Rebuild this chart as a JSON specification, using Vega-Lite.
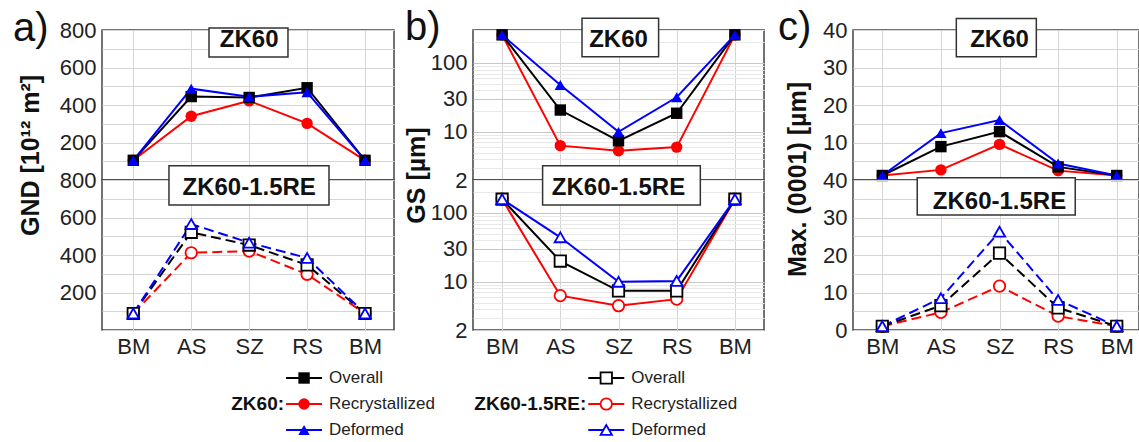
{
"$schema": "https://vega.github.io/schema/vega-lite/v6.json",
"padding": {"left": 12, "top": 6, "right": 0, "bottom": 0},
"background": "white",
"data": {"values": [
{"panel":"GND","alloy":"ZK60","series":"Recrystallized","zone":"BM","pos":1,"value":105},
{"panel":"GND","alloy":"ZK60","series":"Recrystallized","zone":"AS","pos":2,"value":340},
{"panel":"GND","alloy":"ZK60","series":"Recrystallized","zone":"SZ","pos":3,"value":422},
{"panel":"GND","alloy":"ZK60","series":"Recrystallized","zone":"RS","pos":4,"value":302},
{"panel":"GND","alloy":"ZK60","series":"Recrystallized","zone":"BM","pos":5,"value":105},
{"panel":"GND","alloy":"ZK60","series":"Overall","zone":"BM","pos":1,"value":105},
{"panel":"GND","alloy":"ZK60","series":"Overall","zone":"AS","pos":2,"value":445},
{"panel":"GND","alloy":"ZK60","series":"Overall","zone":"SZ","pos":3,"value":440},
{"panel":"GND","alloy":"ZK60","series":"Overall","zone":"RS","pos":4,"value":492},
{"panel":"GND","alloy":"ZK60","series":"Overall","zone":"BM","pos":5,"value":105},
{"panel":"GND","alloy":"ZK60","series":"Deformed","zone":"BM","pos":1,"value":105},
{"panel":"GND","alloy":"ZK60","series":"Deformed","zone":"AS","pos":2,"value":487},
{"panel":"GND","alloy":"ZK60","series":"Deformed","zone":"SZ","pos":3,"value":444},
{"panel":"GND","alloy":"ZK60","series":"Deformed","zone":"RS","pos":4,"value":468},
{"panel":"GND","alloy":"ZK60","series":"Deformed","zone":"BM","pos":5,"value":105},
{"panel":"GND","alloy":"ZK60-1.5RE","series":"Recrystallized","zone":"BM","pos":1,"value":88},
{"panel":"GND","alloy":"ZK60-1.5RE","series":"Recrystallized","zone":"AS","pos":2,"value":412},
{"panel":"GND","alloy":"ZK60-1.5RE","series":"Recrystallized","zone":"SZ","pos":3,"value":421},
{"panel":"GND","alloy":"ZK60-1.5RE","series":"Recrystallized","zone":"RS","pos":4,"value":297},
{"panel":"GND","alloy":"ZK60-1.5RE","series":"Recrystallized","zone":"BM","pos":5,"value":88},
{"panel":"GND","alloy":"ZK60-1.5RE","series":"Overall","zone":"BM","pos":1,"value":88},
{"panel":"GND","alloy":"ZK60-1.5RE","series":"Overall","zone":"AS","pos":2,"value":521},
{"panel":"GND","alloy":"ZK60-1.5RE","series":"Overall","zone":"SZ","pos":3,"value":453},
{"panel":"GND","alloy":"ZK60-1.5RE","series":"Overall","zone":"RS","pos":4,"value":347},
{"panel":"GND","alloy":"ZK60-1.5RE","series":"Overall","zone":"BM","pos":5,"value":88},
{"panel":"GND","alloy":"ZK60-1.5RE","series":"Deformed","zone":"BM","pos":1,"value":88},
{"panel":"GND","alloy":"ZK60-1.5RE","series":"Deformed","zone":"AS","pos":2,"value":565},
{"panel":"GND","alloy":"ZK60-1.5RE","series":"Deformed","zone":"SZ","pos":3,"value":466},
{"panel":"GND","alloy":"ZK60-1.5RE","series":"Deformed","zone":"RS","pos":4,"value":384},
{"panel":"GND","alloy":"ZK60-1.5RE","series":"Deformed","zone":"BM","pos":5,"value":88},
{"panel":"GS","alloy":"ZK60","series":"Recrystallized","zone":"BM","pos":1,"value":255},
{"panel":"GS","alloy":"ZK60","series":"Recrystallized","zone":"AS","pos":2,"value":6.3},
{"panel":"GS","alloy":"ZK60","series":"Recrystallized","zone":"SZ","pos":3,"value":5.3},
{"panel":"GS","alloy":"ZK60","series":"Recrystallized","zone":"RS","pos":4,"value":6.0},
{"panel":"GS","alloy":"ZK60","series":"Recrystallized","zone":"BM","pos":5,"value":255},
{"panel":"GS","alloy":"ZK60","series":"Overall","zone":"BM","pos":1,"value":255},
{"panel":"GS","alloy":"ZK60","series":"Overall","zone":"AS","pos":2,"value":20.7},
{"panel":"GS","alloy":"ZK60","series":"Overall","zone":"SZ","pos":3,"value":7.4},
{"panel":"GS","alloy":"ZK60","series":"Overall","zone":"RS","pos":4,"value":18.6},
{"panel":"GS","alloy":"ZK60","series":"Overall","zone":"BM","pos":5,"value":255},
{"panel":"GS","alloy":"ZK60","series":"Deformed","zone":"BM","pos":1,"value":255},
{"panel":"GS","alloy":"ZK60","series":"Deformed","zone":"AS","pos":2,"value":47.8},
{"panel":"GS","alloy":"ZK60","series":"Deformed","zone":"SZ","pos":3,"value":10.0},
{"panel":"GS","alloy":"ZK60","series":"Deformed","zone":"RS","pos":4,"value":31.7},
{"panel":"GS","alloy":"ZK60","series":"Deformed","zone":"BM","pos":5,"value":255},
{"panel":"GS","alloy":"ZK60-1.5RE","series":"Recrystallized","zone":"BM","pos":1,"value":158},
{"panel":"GS","alloy":"ZK60-1.5RE","series":"Recrystallized","zone":"AS","pos":2,"value":6.3},
{"panel":"GS","alloy":"ZK60-1.5RE","series":"Recrystallized","zone":"SZ","pos":3,"value":4.5},
{"panel":"GS","alloy":"ZK60-1.5RE","series":"Recrystallized","zone":"RS","pos":4,"value":5.6},
{"panel":"GS","alloy":"ZK60-1.5RE","series":"Recrystallized","zone":"BM","pos":5,"value":158},
{"panel":"GS","alloy":"ZK60-1.5RE","series":"Overall","zone":"BM","pos":1,"value":158},
{"panel":"GS","alloy":"ZK60-1.5RE","series":"Overall","zone":"AS","pos":2,"value":20},
{"panel":"GS","alloy":"ZK60-1.5RE","series":"Overall","zone":"SZ","pos":3,"value":7.4},
{"panel":"GS","alloy":"ZK60-1.5RE","series":"Overall","zone":"RS","pos":4,"value":7.4},
{"panel":"GS","alloy":"ZK60-1.5RE","series":"Overall","zone":"BM","pos":5,"value":158},
{"panel":"GS","alloy":"ZK60-1.5RE","series":"Deformed","zone":"BM","pos":1,"value":158},
{"panel":"GS","alloy":"ZK60-1.5RE","series":"Deformed","zone":"AS","pos":2,"value":44.2},
{"panel":"GS","alloy":"ZK60-1.5RE","series":"Deformed","zone":"SZ","pos":3,"value":10.0},
{"panel":"GS","alloy":"ZK60-1.5RE","series":"Deformed","zone":"RS","pos":4,"value":10.3},
{"panel":"GS","alloy":"ZK60-1.5RE","series":"Deformed","zone":"BM","pos":5,"value":158},
{"panel":"Max","alloy":"ZK60","series":"Recrystallized","zone":"BM","pos":1,"value":1.2},
{"panel":"Max","alloy":"ZK60","series":"Recrystallized","zone":"AS","pos":2,"value":2.7},
{"panel":"Max","alloy":"ZK60","series":"Recrystallized","zone":"SZ","pos":3,"value":9.5},
{"panel":"Max","alloy":"ZK60","series":"Recrystallized","zone":"RS","pos":4,"value":2.5},
{"panel":"Max","alloy":"ZK60","series":"Recrystallized","zone":"BM","pos":5,"value":1.2},
{"panel":"Max","alloy":"ZK60","series":"Overall","zone":"BM","pos":1,"value":1.2},
{"panel":"Max","alloy":"ZK60","series":"Overall","zone":"AS","pos":2,"value":8.9},
{"panel":"Max","alloy":"ZK60","series":"Overall","zone":"SZ","pos":3,"value":12.9},
{"panel":"Max","alloy":"ZK60","series":"Overall","zone":"RS","pos":4,"value":3.5},
{"panel":"Max","alloy":"ZK60","series":"Overall","zone":"BM","pos":5,"value":1.2},
{"panel":"Max","alloy":"ZK60","series":"Deformed","zone":"BM","pos":1,"value":1.2},
{"panel":"Max","alloy":"ZK60","series":"Deformed","zone":"AS","pos":2,"value":12.5},
{"panel":"Max","alloy":"ZK60","series":"Deformed","zone":"SZ","pos":3,"value":16},
{"panel":"Max","alloy":"ZK60","series":"Deformed","zone":"RS","pos":4,"value":4.4},
{"panel":"Max","alloy":"ZK60","series":"Deformed","zone":"BM","pos":5,"value":1.2},
{"panel":"Max","alloy":"ZK60-1.5RE","series":"Recrystallized","zone":"BM","pos":1,"value":1},
{"panel":"Max","alloy":"ZK60-1.5RE","series":"Recrystallized","zone":"AS","pos":2,"value":4.7},
{"panel":"Max","alloy":"ZK60-1.5RE","series":"Recrystallized","zone":"SZ","pos":3,"value":11.7},
{"panel":"Max","alloy":"ZK60-1.5RE","series":"Recrystallized","zone":"RS","pos":4,"value":3.7},
{"panel":"Max","alloy":"ZK60-1.5RE","series":"Recrystallized","zone":"BM","pos":5,"value":1},
{"panel":"Max","alloy":"ZK60-1.5RE","series":"Overall","zone":"BM","pos":1,"value":1},
{"panel":"Max","alloy":"ZK60-1.5RE","series":"Overall","zone":"AS","pos":2,"value":6.5},
{"panel":"Max","alloy":"ZK60-1.5RE","series":"Overall","zone":"SZ","pos":3,"value":20.5},
{"panel":"Max","alloy":"ZK60-1.5RE","series":"Overall","zone":"RS","pos":4,"value":5.9},
{"panel":"Max","alloy":"ZK60-1.5RE","series":"Overall","zone":"BM","pos":5,"value":1},
{"panel":"Max","alloy":"ZK60-1.5RE","series":"Deformed","zone":"BM","pos":1,"value":1},
{"panel":"Max","alloy":"ZK60-1.5RE","series":"Deformed","zone":"AS","pos":2,"value":8.5},
{"panel":"Max","alloy":"ZK60-1.5RE","series":"Deformed","zone":"SZ","pos":3,"value":26.2},
{"panel":"Max","alloy":"ZK60-1.5RE","series":"Deformed","zone":"RS","pos":4,"value":8},
{"panel":"Max","alloy":"ZK60-1.5RE","series":"Deformed","zone":"BM","pos":5,"value":1}
]},
"columns": 5,
"spacing": {"row": 0, "column": 0},
"bounds": "flush",
"align": "each",
"concat": [
{
 "width": 292, "height": 150, "view": {"stroke": "#444", "strokeWidth": 1.5},
 "title": {"text": "a)", "dx": -89, "dy": 34},
 "resolve": {"axis": {"y": "independent"}},
 "layer": [
  {"transform": [{"filter": "datum.panel=='GND' && datum.alloy=='ZK60'"}],
   "mark": {"type": "line", "strokeWidth": 2},
   "encoding": {
    "x": {"field": "pos", "type": "quantitative", "scale": {"domain": [0.46, 5.5], "nice": false, "zero": false}, "axis": {"values": [1,1.5,2,2.5,3,3.5,4,4.5,5], "labels": false, "title": null}},
    "y": {"field": "value", "type": "quantitative", "scale": {"domain": [0, 800], "nice": false}, "axis": {"orient": "left", "values": [200,400,600,800], "grid": false, "title": "GND [10¹² m²]", "titleX": -72, "titleY": 125, "titleBaseline": "middle", "titleAlign": "center", "titleAngle": -90}},
    "color": {"field": "series", "type": "nominal", "scale": {"domain": ["Overall","Recrystallized","Deformed"], "range": ["#000000","#ff0000","#0000ff"]}, "legend": null}
   }},
  {"transform": [{"filter": "datum.panel=='GND' && datum.alloy=='ZK60'"}],
   "mark": {"type": "point", "filled": true, "opacity": 1, "size": 130},
   "encoding": {
    "x": {"field": "pos", "type": "quantitative"},
    "y": {"field": "value", "type": "quantitative", "axis": null},
    "color": {"field": "series", "type": "nominal", "legend": null},
    "shape": {"field": "series", "type": "nominal", "scale": {"domain": ["Overall","Recrystallized","Deformed"], "range": ["square","circle","triangle-up"]}, "legend": null}
   }},
  {"data": {"values": [{}]}, "mark": {"type": "rect", "fill": "white", "stroke": "#333", "strokeWidth": 1.5},
   "encoding": {"x": {"datum": 2.307}, "x2": {"datum": 3.67}, "y": {"datum": 810.7, "axis": {"orient": "left", "values": [0,100,200,300,400,500,600,700,800], "labels": false, "grid": true, "title": null}}, "y2": {"datum": 656}}},
  {"data": {"values": [{}]}, "mark": {"type": "text", "fontSize": 24, "fontWeight": "bold", "baseline": "alphabetic", "font": "Liberation Sans", "color": "#111"},
   "encoding": {"x": {"datum": 3}, "y": {"datum": 711, "axis": null}, "text": {"value": "ZK60"}}}
 ]
},
{"width": 79, "height": 150, "view": {"stroke": null}, "data": {"values": []}, "mark": "point"},
{
 "width": 291, "height": 150, "view": {"stroke": "#444", "strokeWidth": 1.5},
 "title": {"text": "b)", "dx": -68, "dy": 34},
 "layer": [
  {"transform": [{"filter": "datum.panel=='GS' && datum.alloy=='ZK60'"}],
   "mark": {"type": "line", "strokeWidth": 2},
   "encoding": {
    "x": {"field": "pos", "type": "quantitative", "scale": {"domain": [0.5, 5.5], "nice": false, "zero": false}, "axis": {"values": [1,1.5,2,2.5,3,3.5,4,4.5,5], "labels": false, "title": null}},
    "y": {"field": "value", "type": "quantitative", "scale": {"type": "log", "domain": [2, 300], "nice": false}, "axis": {"values": [2,3,4,5,6,7,8,9,10,20,30,40,50,60,70,80,90,100,200,300], "format": "d", "labelExpr": "indexof([2,10,30,100], datum.value) >= 0 ? datum.label : ''", "gridColor": {"condition": {"test": "indexof([2,10,30,100], datum.value) >= 0", "value": "#c8c8c8"}, "value": "#e8e8e8"}, "title": "GS [µm]", "titleX": -57, "titleY": 145, "titleBaseline": "middle", "titleAlign": "center", "titleAngle": -90}},
    "color": {"field": "series", "type": "nominal", "scale": {"domain": ["Overall","Recrystallized","Deformed"], "range": ["#000000","#ff0000","#0000ff"]}, "legend": null}
   }},
  {"transform": [{"filter": "datum.panel=='GS' && datum.alloy=='ZK60'"}],
   "mark": {"type": "point", "filled": true, "opacity": 1, "size": 130},
   "encoding": {
    "x": {"field": "pos", "type": "quantitative"},
    "y": {"field": "value", "type": "quantitative"},
    "color": {"field": "series", "type": "nominal", "legend": null},
    "shape": {"field": "series", "type": "nominal", "scale": {"domain": ["Overall","Recrystallized","Deformed"], "range": ["square","circle","triangle-up"]}, "legend": null}
   }},
  {"data": {"values": [{}]}, "mark": {"type": "rect", "fill": "white", "stroke": "#333", "strokeWidth": 1.5},
   "encoding": {"x": {"datum": 2.373}, "x2": {"datum": 3.689}, "y": {"datum": 443.6}, "y2": {"datum": 123}}},
  {"data": {"values": [{}]}, "mark": {"type": "text", "fontSize": 24, "fontWeight": "bold", "baseline": "alphabetic", "font": "Liberation Sans", "color": "#111"},
   "encoding": {"x": {"datum": 3}, "y": {"datum": 171.7}, "text": {"value": "ZK60"}}}
 ]
},
{"width": 89, "height": 150, "view": {"stroke": null}, "data": {"values": []}, "mark": "point"},
{
 "width": 286, "height": 150, "view": {"stroke": "#444", "strokeWidth": 1.5},
 "title": {"text": "c)", "dx": -75, "dy": 34},
 "resolve": {"axis": {"y": "independent"}},
 "layer": [
  {"transform": [{"filter": "datum.panel=='Max' && datum.alloy=='ZK60'"}],
   "mark": {"type": "line", "strokeWidth": 2},
   "encoding": {
    "x": {"field": "pos", "type": "quantitative", "scale": {"domain": [0.5, 5.38], "nice": false, "zero": false}, "axis": {"values": [1,1.5,2,2.5,3,3.5,4,4.5,5], "labels": false, "title": null}},
    "y": {"field": "value", "type": "quantitative", "scale": {"domain": [0, 40], "nice": false}, "axis": {"orient": "left", "values": [10,20,30,40], "grid": false, "title": "Max. (0001) [µm]", "titleX": -56, "titleY": 149, "titleBaseline": "middle", "titleAlign": "center", "titleAngle": -90}},
    "color": {"field": "series", "type": "nominal", "scale": {"domain": ["Overall","Recrystallized","Deformed"], "range": ["#000000","#ff0000","#0000ff"]}, "legend": null}
   }},
  {"transform": [{"filter": "datum.panel=='Max' && datum.alloy=='ZK60'"}],
   "mark": {"type": "point", "filled": true, "opacity": 1, "size": 130},
   "encoding": {
    "x": {"field": "pos", "type": "quantitative"},
    "y": {"field": "value", "type": "quantitative", "axis": null},
    "color": {"field": "series", "type": "nominal", "legend": null},
    "shape": {"field": "series", "type": "nominal", "scale": {"domain": ["Overall","Recrystallized","Deformed"], "range": ["square","circle","triangle-up"]}, "legend": null}
   }},
  {"data": {"values": [{}]}, "mark": {"type": "rect", "fill": "white", "stroke": "#333", "strokeWidth": 1.5},
   "encoding": {"x": {"datum": 2.263}, "x2": {"datum": 3.628}, "y": {"datum": 43.1, "axis": {"orient": "left", "values": [0,5,10,15,20,25,30,35,40], "labels": false, "grid": true, "title": null}}, "y2": {"datum": 32.9}}},
  {"data": {"values": [{}]}, "mark": {"type": "text", "fontSize": 24, "fontWeight": "bold", "baseline": "alphabetic", "font": "Liberation Sans", "color": "#111"},
   "encoding": {"x": {"datum": 3}, "y": {"datum": 35.5, "axis": null}, "text": {"value": "ZK60"}}}
 ]
},
{
 "width": 292, "height": 150, "view": {"stroke": "#444", "strokeWidth": 1.5},
 "resolve": {"axis": {"y": "independent"}},
 "layer": [
  {"transform": [{"filter": "datum.panel=='GND' && datum.alloy=='ZK60-1.5RE'"}],
   "mark": {"type": "line", "strokeWidth": 2, "strokeDash": [10, 5]},
   "encoding": {
    "x": {"field": "pos", "type": "quantitative", "scale": {"domain": [0.46, 5.5], "nice": false, "zero": false}, "axis": {"values": [1,1.5,2,2.5,3,3.5,4,4.5,5], "labelExpr": "datum.value == 1 || datum.value == 5 ? 'BM' : datum.value == 2 ? 'AS' : datum.value == 3 ? 'SZ' : datum.value == 4 ? 'RS' : ''", "title": null}},
    "y": {"field": "value", "type": "quantitative", "scale": {"domain": [0, 800], "nice": false}, "axis": {"orient": "left", "values": [200,400,600,800], "grid": false, "title": null}},
    "color": {"field": "series", "type": "nominal", "scale": {"domain": ["Overall","Recrystallized","Deformed"], "range": ["#000000","#ff0000","#0000ff"]}, "legend": null}
   }},
  {"transform": [{"filter": "datum.panel=='GND' && datum.alloy=='ZK60-1.5RE'"}],
   "mark": {"type": "point", "filled": true, "fill": "white", "strokeWidth": 1.8, "opacity": 1, "size": 130},
   "encoding": {
    "x": {"field": "pos", "type": "quantitative"},
    "y": {"field": "value", "type": "quantitative", "axis": null},
    "stroke": {"field": "series", "type": "nominal", "scale": {"domain": ["Overall","Recrystallized","Deformed"], "range": ["#000000","#ff0000","#0000ff"]}, "legend": null},
    "shape": {"field": "series", "type": "nominal", "scale": {"domain": ["Overall","Recrystallized","Deformed"], "range": ["square","circle","triangle-up"]}, "legend": null}
   }},
  {"data": {"values": [{}]}, "mark": {"type": "rect", "fill": "white", "stroke": "#333", "strokeWidth": 1.5},
   "encoding": {"x": {"datum": 1.616}, "x2": {"datum": 4.378}, "y": {"datum": 876, "axis": {"orient": "left", "values": [0,100,200,300,400,500,600,700,800], "labels": false, "grid": true, "title": null}}, "y2": {"datum": 666.7}}},
  {"data": {"values": [{}]}, "mark": {"type": "text", "fontSize": 24, "fontWeight": "bold", "baseline": "alphabetic", "font": "Liberation Sans", "color": "#111"},
   "encoding": {"x": {"datum": 3}, "y": {"datum": 720, "axis": null}, "text": {"value": "ZK60-1.5RE"}}}
 ]
},
{"width": 79, "height": 150, "view": {"stroke": null}, "data": {"values": []}, "mark": "point"},
{
 "width": 291, "height": 150, "view": {"stroke": "#444", "strokeWidth": 1.5},
 "layer": [
  {"transform": [{"filter": "datum.panel=='GS' && datum.alloy=='ZK60-1.5RE'"}],
   "mark": {"type": "line", "strokeWidth": 2},
   "encoding": {
    "x": {"field": "pos", "type": "quantitative", "scale": {"domain": [0.5, 5.5], "nice": false, "zero": false}, "axis": {"values": [1,1.5,2,2.5,3,3.5,4,4.5,5], "labelExpr": "datum.value == 1 || datum.value == 5 ? 'BM' : datum.value == 2 ? 'AS' : datum.value == 3 ? 'SZ' : datum.value == 4 ? 'RS' : ''", "title": null}},
    "y": {"field": "value", "type": "quantitative", "scale": {"type": "log", "domain": [2, 300], "nice": false}, "axis": {"values": [2,3,4,5,6,7,8,9,10,20,30,40,50,60,70,80,90,100,200,300], "format": "d", "labelExpr": "indexof([2,10,30,100], datum.value) >= 0 ? datum.label : ''", "gridColor": {"condition": {"test": "indexof([2,10,30,100], datum.value) >= 0", "value": "#c8c8c8"}, "value": "#e8e8e8"}, "title": null}},
    "color": {"field": "series", "type": "nominal", "scale": {"domain": ["Overall","Recrystallized","Deformed"], "range": ["#000000","#ff0000","#0000ff"]}, "legend": null}
   }},
  {"transform": [{"filter": "datum.panel=='GS' && datum.alloy=='ZK60-1.5RE'"}],
   "mark": {"type": "point", "filled": true, "fill": "white", "strokeWidth": 1.8, "opacity": 1, "size": 130},
   "encoding": {
    "x": {"field": "pos", "type": "quantitative"},
    "y": {"field": "value", "type": "quantitative"},
    "stroke": {"field": "series", "type": "nominal", "scale": {"domain": ["Overall","Recrystallized","Deformed"], "range": ["#000000","#ff0000","#0000ff"]}, "legend": null},
    "shape": {"field": "series", "type": "nominal", "scale": {"domain": ["Overall","Recrystallized","Deformed"], "range": ["square","circle","triangle-up"]}, "legend": null}
   }},
  {"data": {"values": [{}]}, "mark": {"type": "rect", "fill": "white", "stroke": "#333", "strokeWidth": 1.5},
   "encoding": {"x": {"datum": 1.696}, "x2": {"datum": 4.406}, "y": {"datum": 483.7}, "y2": {"datum": 130.2}}},
  {"data": {"values": [{}]}, "mark": {"type": "text", "fontSize": 24, "fontWeight": "bold", "baseline": "alphabetic", "font": "Liberation Sans", "color": "#111"},
   "encoding": {"x": {"datum": 3}, "y": {"datum": 181.8}, "text": {"value": "ZK60-1.5RE"}}}
 ]
},
{"width": 89, "height": 150, "view": {"stroke": null}, "data": {"values": []}, "mark": "point"},
{
 "width": 286, "height": 150, "view": {"stroke": "#444", "strokeWidth": 1.5},
 "resolve": {"axis": {"y": "independent"}},
 "layer": [
  {"transform": [{"filter": "datum.panel=='Max' && datum.alloy=='ZK60-1.5RE'"}],
   "mark": {"type": "line", "strokeWidth": 2, "strokeDash": [10, 5]},
   "encoding": {
    "x": {"field": "pos", "type": "quantitative", "scale": {"domain": [0.5, 5.38], "nice": false, "zero": false}, "axis": {"values": [1,1.5,2,2.5,3,3.5,4,4.5,5], "labelExpr": "datum.value == 1 || datum.value == 5 ? 'BM' : datum.value == 2 ? 'AS' : datum.value == 3 ? 'SZ' : datum.value == 4 ? 'RS' : ''", "title": null}},
    "y": {"field": "value", "type": "quantitative", "scale": {"domain": [0, 40], "nice": false}, "axis": {"orient": "left", "values": [0,10,20,30,40], "grid": false, "title": null}},
    "color": {"field": "series", "type": "nominal", "scale": {"domain": ["Overall","Recrystallized","Deformed"], "range": ["#000000","#ff0000","#0000ff"]}, "legend": null}
   }},
  {"transform": [{"filter": "datum.panel=='Max' && datum.alloy=='ZK60-1.5RE'"}],
   "mark": {"type": "point", "filled": true, "fill": "white", "strokeWidth": 1.8, "opacity": 1, "size": 130},
   "encoding": {
    "x": {"field": "pos", "type": "quantitative"},
    "y": {"field": "value", "type": "quantitative", "axis": null},
    "stroke": {"field": "series", "type": "nominal", "scale": {"domain": ["Overall","Recrystallized","Deformed"], "range": ["#000000","#ff0000","#0000ff"]}, "legend": null},
    "shape": {"field": "series", "type": "nominal", "scale": {"domain": ["Overall","Recrystallized","Deformed"], "range": ["square","circle","triangle-up"]}, "legend": null}
   }},
  {"data": {"values": [{}]}, "mark": {"type": "rect", "fill": "white", "stroke": "#333", "strokeWidth": 1.5},
   "encoding": {"x": {"datum": 1.596}, "x2": {"datum": 4.292}, "y": {"datum": 40.6, "axis": {"orient": "left", "values": [0,5,10,15,20,25,30,35,40], "labels": false, "grid": true, "title": null}}, "y2": {"datum": 30.67}}},
  {"data": {"values": [{}]}, "mark": {"type": "text", "fontSize": 24, "fontWeight": "bold", "baseline": "alphabetic", "font": "Liberation Sans", "color": "#111"},
   "encoding": {"x": {"datum": 3}, "y": {"datum": 32.4, "axis": null}, "text": {"value": "ZK60-1.5RE"}}}
 ]
},
{
 "width": 292, "height": 104, "view": {"stroke": null},
 "transform": [{"filter": "datum.panel=='GND' && datum.pos==1 && datum.alloy=='ZK60'"}],
 "encoding": {
  "x": {"field": "alloy", "type": "nominal", "scale": {"type": "point", "padding": 0, "align": 0.692}, "axis": null},
  "y": {"field": "series", "type": "nominal", "scale": {"type": "point", "domain": ["Overall","Recrystallized","Deformed"], "padding": 1, "align": 0.923}, "axis": null}
 },
 "layer": [
  {"mark": {"type": "point", "shape": "M-1,0H1", "size": 1296, "strokeWidth": 2, "filled": false, "opacity": 1},
   "encoding": {"color": {"field": "series", "type": "nominal", "legend": null}}},
  {"mark": {"type": "point", "filled": true, "size": 130, "strokeWidth": 1.8, "opacity": 1},
   "encoding": {
    "fill": {"field": "series", "type": "nominal", "scale": {"domain": ["Overall","Recrystallized","Deformed"], "range": ["#000000","#ff0000","#0000ff"]}, "legend": null},
    "shape": {"field": "series", "type": "nominal", "legend": null}
   }},
  {"mark": {"type": "text", "align": "left", "baseline": "middle", "dx": 25, "fontSize": 17, "font": "Liberation Sans", "color": "#222"},
   "encoding": {"text": {"field": "series"}}},
  {"transform": [{"filter": "datum.series == 'Recrystallized'"}, {"calculate": "datum.alloy + ':'", "as": "lbl"}],
   "mark": {"type": "text", "align": "right", "baseline": "middle", "dx": -20, "fontSize": 19, "fontWeight": "bold", "font": "Liberation Sans", "color": "#111"},
   "encoding": {"text": {"field": "lbl"}}}
 ]
},
{"width": 79, "height": 104, "view": {"stroke": null}, "data": {"values": []}, "mark": "point"},
{
 "width": 291, "height": 104, "view": {"stroke": null},
 "transform": [{"filter": "datum.panel=='GND' && datum.pos==1 && datum.alloy=='ZK60-1.5RE'"}],
 "encoding": {
  "x": {"field": "alloy", "type": "nominal", "scale": {"type": "point", "padding": 0, "align": 0.458}, "axis": null},
  "y": {"field": "series", "type": "nominal", "scale": {"type": "point", "domain": ["Overall","Recrystallized","Deformed"], "padding": 1, "align": 0.923}, "axis": null}
 },
 "layer": [
  {"mark": {"type": "point", "shape": "M-1,0H1", "size": 1296, "strokeWidth": 2, "filled": false, "opacity": 1},
   "encoding": {"color": {"field": "series", "type": "nominal", "legend": null}}},
  {"mark": {"type": "point", "filled": true, "fill": "white", "size": 130, "strokeWidth": 1.8, "opacity": 1},
   "encoding": {
    "stroke": {"field": "series", "type": "nominal", "legend": null},
    "shape": {"field": "series", "type": "nominal", "legend": null}
   }},
  {"mark": {"type": "text", "align": "left", "baseline": "middle", "dx": 25, "fontSize": 17, "font": "Liberation Sans", "color": "#222"},
   "encoding": {"text": {"field": "series"}}},
  {"transform": [{"filter": "datum.series == 'Recrystallized'"}, {"calculate": "datum.alloy + ':'", "as": "lbl"}],
   "mark": {"type": "text", "align": "right", "baseline": "middle", "dx": -20, "fontSize": 19, "fontWeight": "bold", "font": "Liberation Sans", "color": "#111"},
   "encoding": {"text": {"field": "lbl"}}}
 ]
}
],
"config": {
 "view": {"stroke": null},
 "font": "Liberation Sans",
 "axis": {"labelFont": "Liberation Sans", "labelFontSize": 22, "labelColor": "#222", "titleFont": "Liberation Sans", "titleFontSize": 25, "titleFontWeight": "bold", "titleColor": "#111", "gridColor": "#d4d4d4", "gridWidth": 1, "ticks": false, "domain": false, "labelFlush": false, "labelPadding": 6},
 "title": {"font": "Liberation Sans", "fontSize": 40, "fontWeight": "normal", "anchor": "start", "frame": "group", "offset": 0, "baseline": "alphabetic", "color": "#111"}
}
}
